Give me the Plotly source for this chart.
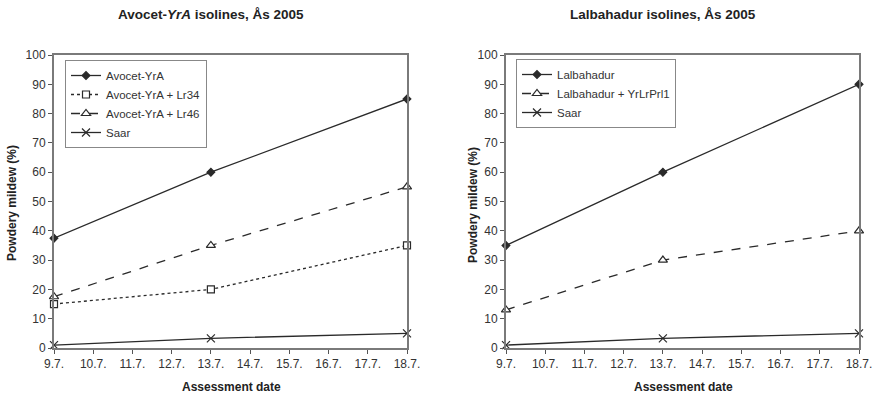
import plotly.graph_objects as go

dates = [9, 13, 18]
tick_vals = [9, 10, 11, 12, 13, 14, 15, 16, 17, 18]
tick_text = ["9.7.", "10.7.", "11.7.", "12.7.", "13.7.", "14.7.", "15.7.", "16.7.", "17.7.", "18.7."]

avocet = [37.5, 60, 85]
avocet_lr34 = [15, 20, 35]
avocet_lr46 = [17.5, 35, 55]
saar_left = [1, 3.3, 5]

lalbahadur = [35, 60, 90]
lal_yrlrprl1 = [13, 30, 40]
saar_right = [1, 3.3, 5]

LC = "#2a2a2a"
FONT = "Liberation Sans, Arial, sans-serif"

fig = go.Figure()

def add(x, y, name, dash, symbol, fill, xa, ya, legend, msize=7):
    fig.add_trace(go.Scatter(
        x=x, y=y, name=name, mode="lines+markers",
        line=dict(color=LC, width=1.3, dash=dash),
        marker=dict(symbol=symbol, size=msize, color=fill,
                    line=dict(color=LC, width=1.2)),
        xaxis=xa, yaxis=ya, legend=legend, cliponaxis=False))

add(dates, avocet, "Avocet-YrA", "solid", "diamond", LC, "x", "y", "legend", 6)
add(dates, avocet_lr34, "Avocet-YrA + Lr34", "dot", "square", "white", "x", "y", "legend", 7)
add(dates, avocet_lr46, "Avocet-YrA + Lr46", "dash", "triangle-up", "white", "x", "y", "legend", 8)
add(dates, saar_left, "Saar", "solid", "x-thin", LC, "x", "y", "legend", 8)

add(dates, lalbahadur, "Lalbahadur", "solid", "diamond", LC, "x2", "y2", "legend2", 6)
add(dates, lal_yrlrprl1, "Lalbahadur + YrLrPrl1", "dash", "triangle-up", "white", "x2", "y2", "legend2", 8)
add(dates, saar_right, "Saar", "solid", "x-thin", LC, "x2", "y2", "legend2", 8)

ytop = 1 - 55 / 395
ybot = 1 - 348 / 395

axis_common = dict(showline=True, linecolor="#7a7a7a", linewidth=2, mirror=True,
                   ticks="outside", ticklen=4, tickcolor="#555", showgrid=False,
                   zeroline=False, automargin=False,
                   tickfont=dict(family=FONT, size=12, color="#333"))

xa = dict(axis_common, range=[9, 18], tickvals=tick_vals, ticktext=tick_text)
ya = dict(axis_common, range=[0, 100], dtick=10)

def ann(text, px, py, size, angle=0):
    return dict(text=text, x=px / 876, y=1 - py / 395, xref="paper", yref="paper",
                xanchor="center", yanchor="middle", showarrow=False, textangle=angle,
                font=dict(family=FONT, size=size, color="#222"))

fig.update_layout(
    width=876, height=395,
    margin=dict(l=0, r=0, t=0, b=0, autoexpand=False),
    paper_bgcolor="white", plot_bgcolor="white",
    font=dict(family=FONT, size=12, color="#333"),
    xaxis=dict(xa, domain=[54 / 876, 407 / 876], anchor="y"),
    yaxis=dict(ya, domain=[ybot, ytop], anchor="x"),
    xaxis2=dict(xa, domain=[506 / 876, 859 / 876], anchor="y2"),
    yaxis2=dict(ya, domain=[ybot, ytop], anchor="x2"),
    legend=dict(x=65 / 876, y=1 - 60 / 395, xanchor="left", yanchor="top",
                bordercolor="#888", borderwidth=1, bgcolor="white",
                font=dict(family=FONT, size=11.5, color="#333"), tracegroupgap=0),
    legend2=dict(x=516 / 876, y=1 - 59 / 395, xanchor="left", yanchor="top",
                 bordercolor="#888", borderwidth=1, bgcolor="white",
                 font=dict(family=FONT, size=11.5, color="#333"), tracegroupgap=0),
    showlegend=True,
    annotations=[
        ann("<b>Avocet-<i>YrA</i> isolines, Ås 2005</b>", 211, 15, 13.5),
        ann("<b>Lalbahadur isolines, Ås 2005</b>", 663, 15, 13.5),
        ann("<b>Powdery mildew (%)</b>", 12, 203, 12, -90),
        ann("<b>Powdery mildew (%)</b>", 473, 205, 12, -90),
        ann("<b>Assessment date</b>", 231, 387, 12),
        ann("<b>Assessment date</b>", 683, 387, 12),
    ],
)

fig.write_html("out.html")
